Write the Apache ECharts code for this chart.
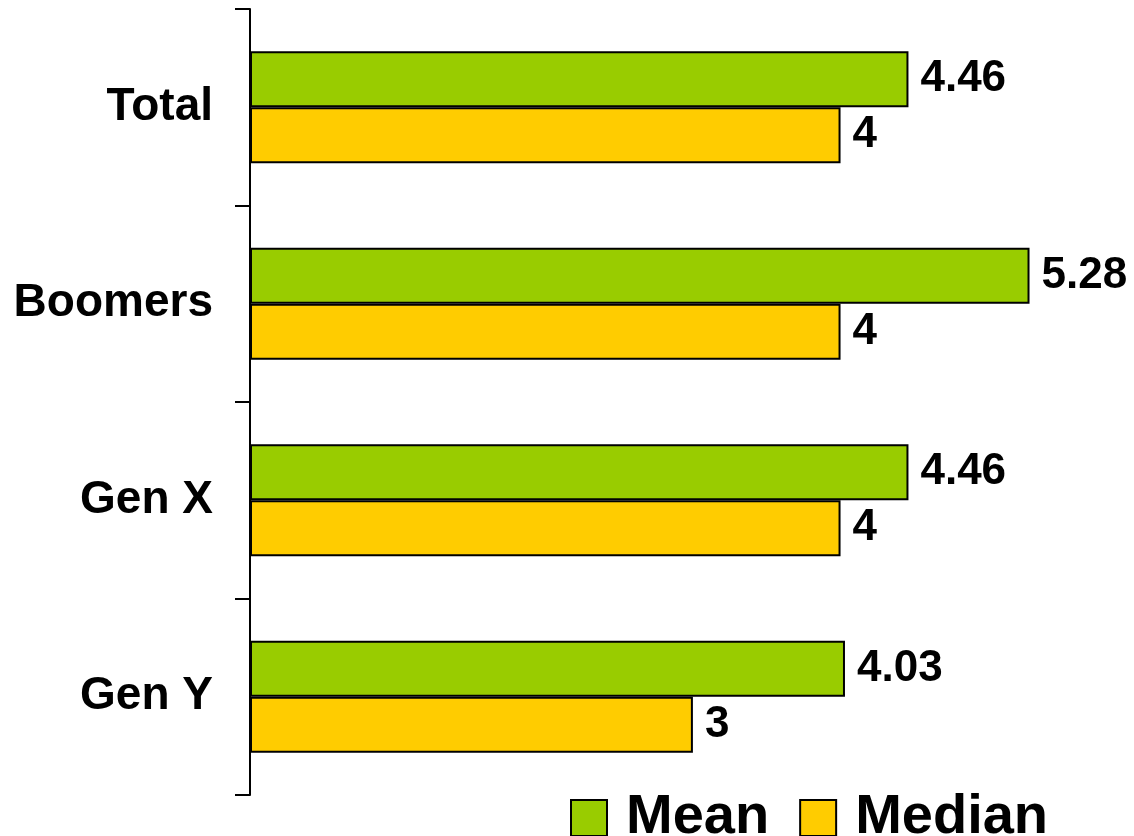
<!DOCTYPE html>
<html>
<head>
<meta charset="utf-8">
<style>html,body{margin:0;padding:0;background:#fff;}#main{width:1134px;height:836px;}</style>
<script src="https://cdn.jsdelivr.net/npm/echarts@6/dist/echarts.min.js"></script>
</head>
<body>
<div id="main"></div>
<script>
var categories = ['Total', 'Boomers', 'Gen X', 'Gen Y'];
var meanValues = [4.46, 5.28, 4.46, 4.03];
var medianValues = [4, 4, 4, 3];
var seriesNames = ['Mean', 'Median'];

var FONT = '"Liberation Sans", Arial, Helvetica, sans-serif';
var chart = echarts.init(document.getElementById('main'), null, {renderer: 'canvas'});
var labelStyle = {
  show: true,
  position: 'right',
  distance: 12,
  fontFamily: FONT,
  fontSize: 44,
  fontWeight: 'bold',
  color: '#000',
  formatter: function (p) { return String(p.value); }
};
chart.setOption({
  animation: false,
  backgroundColor: '#fff',
  grid: {left: 250, top: 9, height: 786, width: 812, containLabel: false},
  legend: {
    data: seriesNames,
    left: 565,
    top: 785,
    itemWidth: 36,
    itemHeight: 36,
    itemGap: 30,
    icon: 'rect',
    itemStyle: {borderColor: '#000', borderWidth: 2},
    textStyle: {fontFamily: FONT, fontSize: 56, fontWeight: 'bold', color: '#000', padding: [0, 0, 0, 14]}
  },
  xAxis: {
    type: 'value', min: 0, max: 5.5, show: false,
    splitLine: {show: false}
  },
  yAxis: {
    type: 'category',
    data: categories,
    inverse: true,
    axisLine: {show: true, lineStyle: {color: '#000', width: 2}},
    axisTick: {show: true, length: 15, lineStyle: {color: '#000', width: 2}},
    axisLabel: {fontFamily: FONT, fontSize: 46, fontWeight: 'bold', color: '#000', margin: 37}
  },
  series: [
    {
      name: 'Mean', type: 'bar', data: meanValues,
      barGap: '0%', barCategoryGap: '43%',
      itemStyle: {color: '#99CC00', borderColor: '#000', borderWidth: 2},
      label: labelStyle
    },
    {
      name: 'Median', type: 'bar', data: medianValues,
      barGap: '0%', barCategoryGap: '43%',
      itemStyle: {color: '#FFCC00', borderColor: '#000', borderWidth: 2},
      label: labelStyle
    }
  ]
});
</script>
</body>
</html>
